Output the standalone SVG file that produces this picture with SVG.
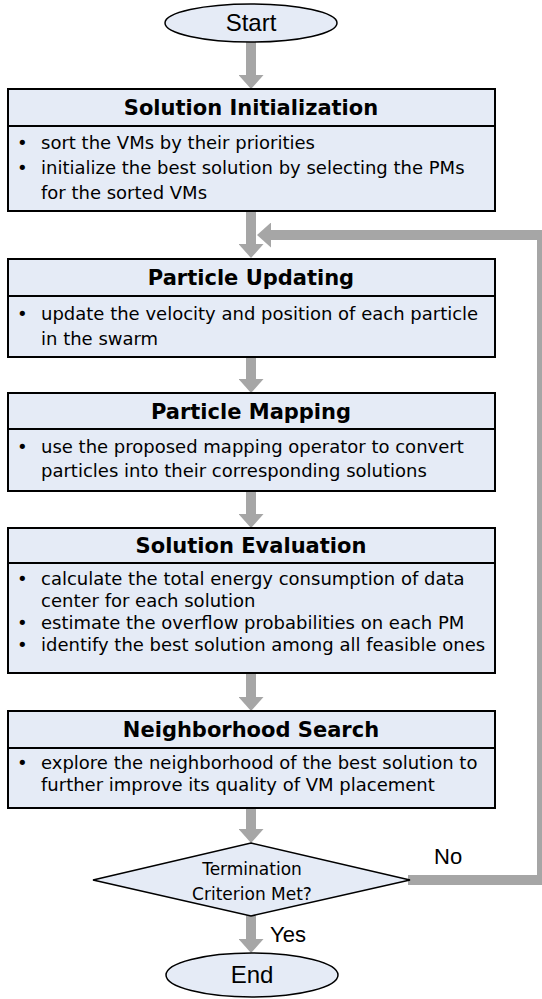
<svg xmlns="http://www.w3.org/2000/svg" width="542" height="999" viewBox="0 0 542 999">
<defs>
<style>
.box{fill:#e5ebf6;stroke:#000;stroke-width:2}
.shape{fill:#e5ebf6;stroke:#000;stroke-width:1.5}
.hd{font-family:"DejaVu Sans",Verdana,sans-serif;font-weight:bold;font-size:21px;fill:#000;text-anchor:middle}
.tx{font-family:"DejaVu Sans",Verdana,sans-serif;font-size:18px;fill:#000}
.dt{font-family:"DejaVu Sans",Verdana,sans-serif;font-size:17px;fill:#000;text-anchor:middle}
.term{font-family:"Liberation Sans",Arial,sans-serif;font-size:24px;fill:#000;text-anchor:middle}
.lbl{font-family:"Liberation Sans",Arial,sans-serif;font-size:22px;fill:#000}
.conn{fill:none;stroke:#a6a6a6;stroke-width:10;marker-end:url(#ah)}
</style>
<marker id="ah" markerUnits="userSpaceOnUse" markerWidth="14" markerHeight="25" refX="0" refY="12.5" orient="auto" viewBox="0 0 14 25">
<path d="M0,0 L14,12.5 L0,25 Z" fill="#a6a6a6"/>
</marker>
</defs>

<g id="connectors">
<line class="conn" x1="251" y1="40" x2="251" y2="75"/>
<line class="conn" x1="251" y1="211" x2="251" y2="244"/>
<line class="conn" x1="251" y1="357" x2="251" y2="379"/>
<line class="conn" x1="251" y1="491" x2="251" y2="514"/>
<line class="conn" x1="251" y1="673" x2="251" y2="697"/>
<line class="conn" x1="251" y1="808" x2="251" y2="829"/>
<line class="conn" x1="251" y1="914" x2="251" y2="939"/>
<path class="conn" d="M408,880 H542 V235 H271" stroke-linejoin="miter"/>
<text class="lbl" x="434" y="864">No</text>
<text class="lbl" x="270" y="942">Yes</text>
</g>

<g id="start">
<ellipse class="shape" cx="251" cy="23" rx="86" ry="19"/>
<text class="term" x="251" y="31">Start</text>
</g>

<g id="solution-initialization">
<rect class="box" x="8" y="89" width="487" height="122"/>
<line x1="8" y1="126" x2="495" y2="126" stroke="#000" stroke-width="2"/>
<text class="hd" x="251" y="115">Solution Initialization</text>
<text class="tx" x="17" y="149">•</text>
<text class="tx" x="41" y="149">sort the VMs by their priorities</text>
<text class="tx" x="17" y="174">•</text>
<text class="tx" x="41" y="174">initialize the best solution by selecting the PMs</text>
<text class="tx" x="41" y="199">for the sorted VMs</text>
</g>

<g id="particle-updating">
<rect class="box" x="8" y="259" width="487" height="98"/>
<line x1="8" y1="296" x2="495" y2="296" stroke="#000" stroke-width="2"/>
<text class="hd" x="251" y="285">Particle Updating</text>
<text class="tx" x="17" y="320">•</text>
<text class="tx" x="41" y="320">update the velocity and position of each particle</text>
<text class="tx" x="41" y="345">in the swarm</text>
</g>

<g id="particle-mapping">
<rect class="box" x="8" y="393" width="487" height="98"/>
<line x1="8" y1="429" x2="495" y2="429" stroke="#000" stroke-width="2"/>
<text class="hd" x="251" y="419">Particle Mapping</text>
<text class="tx" x="17" y="453">•</text>
<text class="tx" x="41" y="453">use the proposed mapping operator to convert</text>
<text class="tx" x="41" y="477">particles into their corresponding solutions</text>
</g>

<g id="solution-evaluation">
<rect class="box" x="8" y="528" width="487" height="145"/>
<line x1="8" y1="563" x2="495" y2="563" stroke="#000" stroke-width="2"/>
<text class="hd" x="251" y="553">Solution Evaluation</text>
<text class="tx" x="17" y="585">•</text>
<text class="tx" x="41" y="585">calculate the total energy consumption of data</text>
<text class="tx" x="41" y="607">center for each solution</text>
<text class="tx" x="17" y="629">•</text>
<text class="tx" x="41" y="629">estimate the overflow probabilities on each PM</text>
<text class="tx" x="17" y="651">•</text>
<text class="tx" x="41" y="651">identify the best solution among all feasible ones</text>
</g>

<g id="neighborhood-search">
<rect class="box" x="8" y="711" width="487" height="97"/>
<line x1="8" y1="748" x2="495" y2="748" stroke="#000" stroke-width="2"/>
<text class="hd" x="251" y="737">Neighborhood Search</text>
<text class="tx" x="17" y="769">•</text>
<text class="tx" x="41" y="769">explore the neighborhood of the best solution to</text>
<text class="tx" x="41" y="791">further improve its quality of VM placement</text>
</g>

<g id="termination">
<polygon class="shape" points="251,843 410,880 251,916 93,880"/>
<text class="dt" x="252" y="875">Termination</text>
<text class="dt" x="252" y="900">Criterion Met?</text>
</g>

<g id="end">
<ellipse class="shape" cx="252" cy="975" rx="86" ry="22"/>
<text class="term" x="252" y="983">End</text>
</g>
</svg>
